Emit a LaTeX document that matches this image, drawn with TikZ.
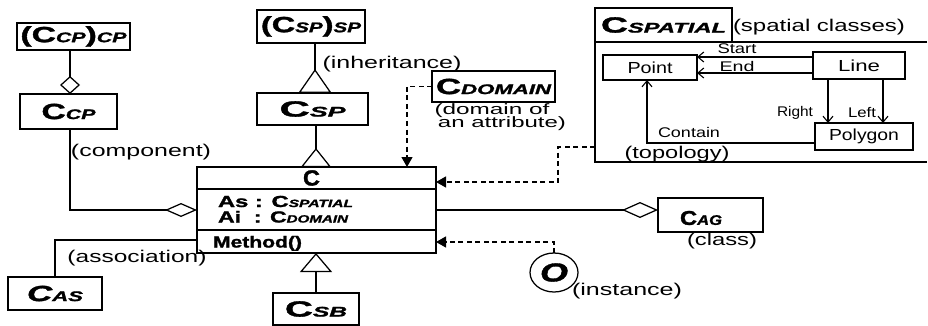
\documentclass[tikz,border=0pt]{standalone}
\usepackage{fontspec}
\usepackage{graphicx}
\setmainfont{Liberation Sans}
\newfontfamily\hvy[FakeBold=1.3]{Liberation Sans}
\usetikzlibrary{arrows.meta,shapes.geometric}
\newcommand\fitw[2]{\resizebox{#1}{\height}{#2}}
\newcommand\cnm[1]{{\hvy\bfseries\fontsize{22}{22}\selectfont #1}}
\newcommand\cnmi[1]{{\hvy\bfseries\itshape\fontsize{22}{22}\selectfont #1}}
\newcommand\csub[1]{{\hvy\bfseries\itshape\fontsize{14}{14}\selectfont #1}}
\newcommand\anm[1]{{\hvy\bfseries\fontsize{16}{16}\selectfont #1}}
\newcommand\asub[1]{{\hvy\bfseries\itshape\fontsize{10.5}{10.5}\selectfont #1}}
\begin{document}
\begin{tikzpicture}[x=1pt,y=-1pt,line width=1.25pt,
  every node/.style={inner sep=0pt,outer sep=0pt},
  box/.style={draw,rectangle,line width=1.25pt},
  lab/.style={font=\fontsize{17}{17}\selectfont},
  slab/.style={font=\fontsize{14}{14}\selectfont},
  ilab/.style={font=\fontsize{15}{15}\selectfont},
  dsh/.style={dash pattern=on 5pt off 3.5pt},
  ftip/.style={-{Triangle[length=10pt,width=11pt]}},
  otip/.style={-{Straight Barb[length=6pt,width=10pt,line width=1.1pt]}}]
\path[use as bounding box] (0,0) rectangle (928,326);

% class boxes
\node[box,minimum width=113pt,minimum height=27pt] (ccpcp) at (73.5,36.5) {\fitw{106pt}{\cnm{(C}\csub{CP}\cnm{)}\csub{CP}}};
\node[box,minimum width=97pt,minimum height=35pt] (ccp) at (68.5,111.5) {\fitw{54pt}{\cnm{C}\csub{CP}}};
\node[box,minimum width=108pt,minimum height=33pt] (cspsp) at (311,26.5) {\fitw{100pt}{\cnm{(C}\csub{SP}\cnm{)}\csub{SP}}};
\node[box,minimum width=111pt,minimum height=32pt] (csp) at (312.5,109) {\fitw{66pt}{\cnm{C}\csub{SP}}};
\node[box,minimum width=123pt,minimum height=31pt] (cdom) at (493.5,86.5) {\fitw{115pt}{\cnm{C}\csub{DOMAIN}}};
\node[box,minimum width=105pt,minimum height=34pt] (cag) at (710.5,215) {};
\node (cagt) at (701,218) {\fitw{42pt}{{\hvy\bfseries\fontsize{20}{20}\selectfont C}\csub{AG}}};
\node[box,minimum width=94pt,minimum height=33pt] (cas) at (55,293.5) {\fitw{56pt}{\cnmi{C}\csub{AS}}};
\node[box,minimum width=86pt,minimum height=32pt] (csb) at (316,309) {\fitw{62pt}{\cnm{C}\csub{SB}}};

% main class C
\node[box,minimum width=239pt,minimum height=86pt] (c) at (316.5,210) {};
\draw (c.west |- 0,189) -- (c.east |- 0,189);
\draw (c.west |- 0,230) -- (c.east |- 0,230);
\node (ct) at (311.5,178) {\fitw{17pt}{\cnm{C}}};
\node[anchor=base west] (as) at (218,207) {\fitw{135pt}{\anm{As : C}\asub{SPATIAL}}};
\node[anchor=base west] (ai) at (218,222.5) {\fitw{130pt}{\anm{Ai\ \ : C}\asub{DOMAIN}}};
\node[anchor=base west] (me) at (213,247.5) {\fitw{89pt}{\anm{Method()}}};

% spatial package
\node[minimum width=332pt,minimum height=120pt] (sp) at (761,102) {};
\draw (sp.north east) -- (sp.north west) -- (sp.south west) -- (sp.south east);
\node[box,minimum width=137pt,minimum height=34pt,anchor=south west] (tab) at (sp.north west) {\fitw{125pt}{\cnm{C}\csub{SPATIAL}}};
\node[lab] (spl) at (819,27) {\fitw{172pt}{(spatial classes)}};
\node[box,line width=1.1pt,minimum width=94pt,minimum height=25pt,font=\fontsize{16}{16}\selectfont] (pt) at (650,67.5) {\fitw{45pt}{Point}};
\node[box,line width=1.1pt,minimum width=92pt,minimum height=27pt,font=\fontsize{16}{16}\selectfont] (ln) at (859,65.5) {\fitw{42pt}{Line}};
\node[box,line width=1.1pt,minimum width=98pt,minimum height=27pt,font=\fontsize{16}{16}\selectfont] (pg) at (864,136.5) {\fitw{70pt}{Polygon}};
\draw[otip] (ln.west |- 0,57) -- (pt.east |- 0,57);
\draw[otip] (ln.west |- 0,73) -- (pt.east |- 0,73);
\draw[otip] (ln.south -| 828,0) -- (pg.north -| 828,0);
\draw[otip] (ln.south -| 883,0) -- (pg.north -| 883,0);
\draw[otip] (pg.west |- 0,143) -| ([xshift=-3pt]pt.south);
\node[slab] (lstart) at (737,49) {\fitw{39pt}{Start}};
\node[slab] (lend) at (737,66.5) {\fitw{35pt}{End}};
\node[slab] (lright) at (795,113) {\fitw{36pt}{Right}};
\node[slab] (lleft) at (862,113) {\fitw{28pt}{Left}};
\node[slab] (lcont) at (689,132) {\fitw{62pt}{Contain}};
\node[lab] (ltopo) at (677,154) {\fitw{105pt}{(topology)}};

% instance
\node[draw,ellipse,line width=1.25pt,minimum width=48pt,minimum height=39pt] (inst) at (554,272.5) {\fitw{28pt}{{\hvy\bfseries\itshape\fontsize{26}{26}\selectfont O}}};
\node[lab] (linst) at (627,291) {\fitw{110pt}{(instance)}};

% connectors
\draw[-{Diamond[open,length=18pt,width=20pt]}] (ccpcp.south -| 70,0) -- (ccp.north -| 70,0);
\draw[-{Diamond[open,length=32pt,width=14pt]}] (ccp.south -| 70,0) |- (c.west);
\draw[-{Triangle[open,reversed,length=24pt,width=33pt]}] (cspsp.south -| 315,0) -- (csp.north -| 315,0);
\draw[-{Triangle[open,reversed,length=19pt,width=30pt]}] (csp.south -| 316,0) -- (c.north -| 316,0);
\draw[{Triangle[open,length=19pt,width=32pt]}-] (c.south -| 316,0) -- (csb.north -| 316,0);
\draw[-{Diamond[open,length=36pt,width=16pt]}] (c.east |- 0,210) -- (cag.west |- 0,210);
\draw (c.west |- 0,240) -| (cas.north);
\draw[dsh,ftip] (cdom.west) -| (c.north -| 407,0);
\coordinate (k1) at (558,182);
\draw[dsh,ftip] (sp.west |- 0,147) -| (k1) -- (c.east |- k1);
\draw[dsh,ftip] (inst.north) |- (c.east |- 0,242);

% labels
\node[lab] (lcomp) at (141,152) {\fitw{140pt}{(component)}};
\node[lab] (linh) at (392,64) {\fitw{139pt}{(inheritance)}};
\node[ilab] (ldom1) at (492,110.5) {\fitw{115pt}{(domain of}};
\node[ilab] (ldom2) at (502,124) {\fitw{128pt}{an attribute)}};
\node[lab] (lclass) at (722,241) {\fitw{70pt}{(class)}};
\node[lab] (lassoc) at (137,258) {\fitw{139pt}{(association)}};
\end{tikzpicture}
\end{document}
